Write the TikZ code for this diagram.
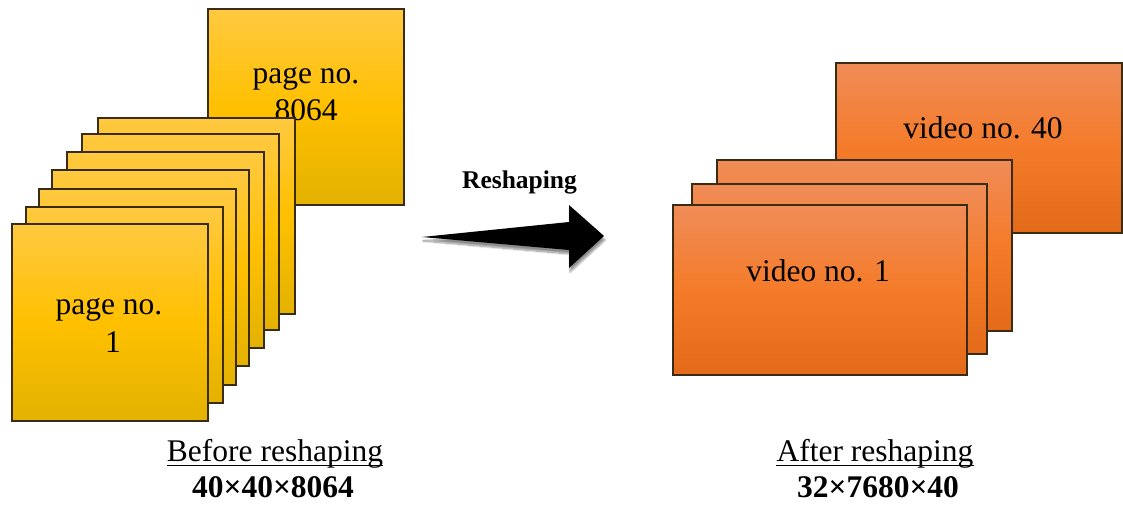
\documentclass[tikz,border=0pt]{standalone}
\usepackage{fontspec}
\setmainfont{Liberation Serif}
\usetikzlibrary{shadows.blur}

\definecolor{ytop}{HTML}{FFC941}
\definecolor{ymid}{HTML}{FFC000}
\definecolor{ybot}{HTML}{E3B200}
\definecolor{otop}{HTML}{F08C58}
\definecolor{omid}{HTML}{F47B29}
\definecolor{obot}{HTML}{E36A18}
\definecolor{edge}{HTML}{3A2C12}

\tikzset{
  sheet/.style={draw=edge, line width=1.1pt, top color=ytop, bottom color=ybot, middle color=ymid},
  videobox/.style={draw=edge, line width=1.1pt, top color=otop, bottom color=obot, middle color=omid},
  txt/.style={font=\fontsize{31.5}{38}\selectfont, inner sep=0pt, anchor=base},
  boldtxt/.style={font=\fontsize{31.5}{38}\selectfont\bfseries, inner sep=0pt, anchor=base},
  rule/.style={line width=1.4pt},
  bigarrow/.style={fill=black, blur shadow={shadow xshift=1pt, shadow yshift=-4pt, shadow blur steps=10, shadow opacity=45}},
}

\begin{document}
\begin{tikzpicture}[x=1pt, y=-1pt]
\useasboundingbox (0,0) rectangle (1123,505);

% ---- stack of pages ----
\path[sheet] (208,9) rectangle (404,205);
\node[txt] (p8064a) at (306,84) {page no.};
\node[txt] (p8064b) at (306,121) {8064};
\path[sheet] (98,118) rectangle (295,314);
\path[sheet] (82,134) rectangle (279,330);
\path[sheet] (67,152) rectangle (264,348);
\path[sheet] (52,170) rectangle (249,366);
\path[sheet] (39,189) rectangle (236,385);
\path[sheet] (26,207) rectangle (223,403);
\path[sheet] (12,224) rectangle (208,421);
\node[txt] (p1a) at (109,314) {page no.};
\node[txt] (p1b) at (113,352) {1};

% ---- reshaping arrow ----
\node[font=\fontsize{25.5}{30}\selectfont\bfseries, inner sep=0pt, anchor=base] (reshape) at (519.5,189) {Reshaping};
\path[bigarrow] (422,237) -- (569,222) -- (569,205) -- (604,236) -- (569,268) -- (569,250) -- cycle;

% ---- stack of videos ----
\path[videobox] (836,63) rectangle (1122,233);
\node[txt] (v40) at (983,139) {video no. 40};
\path[videobox] (717,160) rectangle (1012,331);
\path[videobox] (692,184) rectangle (987,354);
\path[videobox] (673,205) rectangle (967,375);
\node[txt] (v1) at (818,281) {video no. 1};

% ---- captions ----
\node[txt] (before) at (275,461) {Before reshaping};
\draw[rule] ([yshift=-4.5pt]before.base west) -- ([yshift=-4.5pt]before.base east);
\node[boldtxt] (bdim) at (273,497) {40×40×8064};
\node[txt] (after) at (875,461) {After reshaping};
\draw[rule] ([yshift=-4.5pt]after.base west) -- ([yshift=-4.5pt]after.base east);
\node[boldtxt] (adim) at (878,497) {32×7680×40};
\end{tikzpicture}
\end{document}
